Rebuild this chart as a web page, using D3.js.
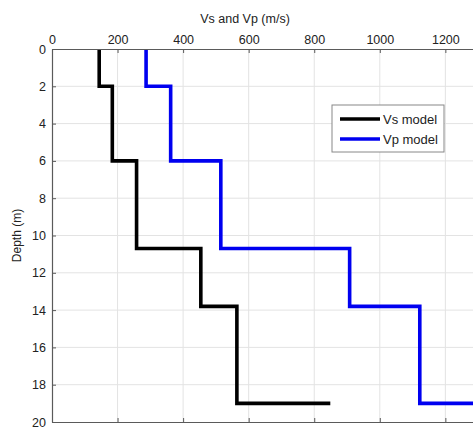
<!DOCTYPE html>
<html>
<head>
<meta charset="utf-8">
<script src="https://cdn.jsdelivr.net/npm/d3@7"></script>
<style>
  body { margin: 0; background: #fff; }
  svg { display: block; font-family: "Liberation Sans", Arial, sans-serif; }
</style>
</head>
<body>
<svg id="chart" width="473" height="430"></svg>
<script>
// layer tops (m) and velocities (m/s); last value is the half-space
var depths = [0, 2, 6, 10.7, 13.8, 19];
var vsModel = [144, 184, 258, 454, 564, 849];
var vpModel = [287, 362, 515, 908, 1122, 1600];
var xTicks = [0, 200, 400, 600, 800, 1000, 1200];
var yTicks = [0, 2, 4, 6, 8, 10, 12, 14, 16, 18, 20];
var seriesNames = ['Vs model', 'Vp model'];
var seriesColors = ['#000000', '#0000f0'];

var svg = d3.select('#chart');
var plotLeft = 52, plotTop = 49, plotBottom = 422;
var x = d3.scaleLinear().domain([0, 1400]).range([plotLeft, plotLeft + 1400 * 0.3278]);
var y = d3.scaleLinear().domain([0, 20]).range([plotTop, plotBottom]);
var plotRight = x(1400);

// grid
var grid = svg.append('g');
grid.selectAll('line.gx').data(xTicks.slice(1)).enter().append('line')
  .attr('x1', function(d) { return x(d); }).attr('x2', function(d) { return x(d); })
  .attr('y1', plotTop).attr('y2', plotBottom)
  .style('stroke', '#e3e3e3').style('stroke-width', 1);
grid.selectAll('line.gy').data(yTicks.slice(1, -1)).enter().append('line')
  .attr('y1', function(d) { return y(d); }).attr('y2', function(d) { return y(d); })
  .attr('x1', plotLeft).attr('x2', plotRight)
  .style('stroke', '#e3e3e3').style('stroke-width', 1);

// profiles as staircases
function steps(v) {
  var pts = [[v[0], depths[0]]];
  for (var i = 0; i < v.length - 1; i++) {
    pts.push([v[i], depths[i + 1]]);
    pts.push([v[i + 1], depths[i + 1]]);
  }
  return pts;
}
var line = d3.line().x(function(d) { return x(d[0]); }).y(function(d) { return y(d[1]); });
[vsModel, vpModel].forEach(function(v, i) {
  svg.append('path').attr('d', line(steps(v)))
    .style('fill', 'none').style('stroke', seriesColors[i])
    .style('stroke-width', 3.6).style('stroke-linejoin', 'miter');
});

// axes
function styleAxis(g) {
  g.select('.domain').style('stroke', '#5a5a5a').style('stroke-width', 1.2);
  g.selectAll('.tick line').style('stroke', '#5a5a5a');
  g.selectAll('.tick text').style('fill', '#222').style('font-size', '12.5px')
    .style('font-family', '"Liberation Sans", Arial, sans-serif');
}
svg.append('g').attr('transform', 'translate(0,' + plotTop + ')')
  .call(d3.axisTop(x).tickValues(xTicks).tickSizeInner(-4).tickSizeOuter(0).tickPadding(5)
    .tickFormat(d3.format('d')))
  .call(styleAxis);
svg.append('g').attr('transform', 'translate(0,' + plotBottom + ')')
  .call(d3.axisBottom(x).tickValues(xTicks).tickSizeInner(-4).tickSizeOuter(0).tickFormat(''))
  .call(styleAxis);
svg.append('g').attr('transform', 'translate(' + plotLeft + ',0)')
  .call(d3.axisLeft(y).tickValues(yTicks).tickSizeInner(-4).tickSizeOuter(0).tickPadding(6))
  .call(styleAxis);

// titles
svg.append('text').attr('x', 245).attr('y', 23).attr('text-anchor', 'middle')
  .style('font-size', '12.5px').style('fill', '#222').text('Vs and Vp (m/s)');
svg.append('text').attr('transform', 'translate(21,' + (plotTop + plotBottom) / 2 + ') rotate(-90)')
  .attr('text-anchor', 'middle').style('font-size', '12px').style('fill', '#222')
  .text('Depth (m)');

// legend
var lg = svg.append('g').attr('transform', 'translate(332,105)');
lg.append('rect').attr('width', 112).attr('height', 47)
  .style('fill', '#fff').style('stroke', '#888').style('stroke-width', 1);
seriesNames.forEach(function(name, i) {
  var ly = 14 + i * 20;
  lg.append('line').attr('x1', 8).attr('x2', 48).attr('y1', ly).attr('y2', ly)
    .style('stroke', seriesColors[i]).style('stroke-width', 3.6);
  lg.append('text').attr('x', 51).attr('y', ly + 4.5)
    .style('font-size', '13px').style('fill', '#222').text(name);
});
</script>
</body>
</html>
